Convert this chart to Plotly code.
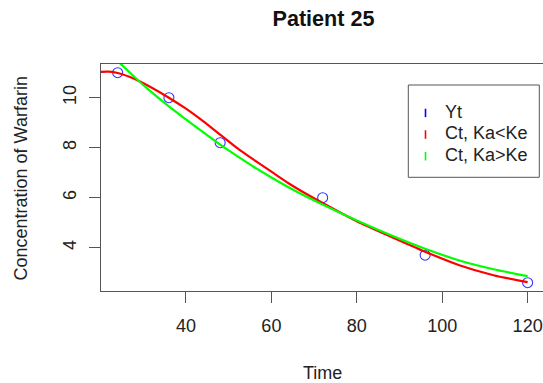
import plotly.graph_objects as go

# ---- data ----
obs_time = [24, 36, 48, 72, 96, 120]
obs_conc = [11.0, 10.0, 8.2, 6.0, 3.7, 2.6]

red_time = [16, 18, 20, 22, 24, 28, 32, 36, 40, 44, 48, 52, 56, 60, 64, 68, 72, 80, 88, 96, 104, 112, 120]
red_conc = [10.90, 10.99, 11.03, 11.04, 10.99, 10.75, 10.40, 10.00, 9.56, 9.06, 8.52, 7.98,
            7.50, 7.04, 6.58, 6.17, 5.79, 5.06, 4.44, 3.84, 3.30, 2.90, 2.62]

green_time = [24, 28, 32, 36, 40, 44, 48, 52, 56, 60, 64, 68, 72, 80, 88, 96, 104, 112, 120]
green_conc = [11.47, 10.82, 10.21, 9.65, 9.13, 8.62, 8.12, 7.66, 7.22, 6.81, 6.42, 6.06,
              5.73, 5.09, 4.50, 3.96, 3.49, 3.14, 2.86]

x_ticks = [40, 60, 80, 100, 120]
y_ticks = [4, 6, 8, 10]

legend_labels = ["Yt", "Ct, Ka<Ke", "Ct, Ka>Ke"]
legend_colors = ["#0000FF", "#FF0000", "#00FF00"]

title_text = "Patient 25"
x_title = "Time"
y_title = "Concentration of Warfarin"

# ---- layout geometry (pixels) ----
W, H = 543, 383
L, R, T, B = 101, 0, 64, 92
PW = W - L - R
PH = H - T - B
FONT = "Liberation Sans, Arial, sans-serif"
AX = "#555555"
TXT = "#222222"


def px_x(px):
    return (px - L) / PW


def px_y(py):
    return (H - B - py) / PH


fig = go.Figure()
fig.add_trace(go.Scatter(x=obs_time, y=obs_conc, mode="markers",
                         marker=dict(symbol="circle-open", size=10, color="#3535ff",
                                     line=dict(width=1.1, color="#3535ff")),
                         cliponaxis=False, showlegend=False))
fig.add_trace(go.Scatter(x=red_time, y=red_conc, mode="lines",
                         line=dict(color="#FF0000", width=2.2, shape="spline", smoothing=0.6),
                         showlegend=False))
fig.add_trace(go.Scatter(x=green_time, y=green_conc, mode="lines",
                         line=dict(color="#00FF00", width=2.2, shape="spline", smoothing=0.6),
                         showlegend=False))

fig.update_layout(
    width=W, height=H,
    margin=dict(l=L, r=R, t=T, b=B, pad=0),
    paper_bgcolor="white", plot_bgcolor="white",
    font=dict(family=FONT, size=18, color=TXT),
    showlegend=False,
    title=dict(text="<b>" + title_text + "</b>", x=323.5 / W, xanchor="center",
               xref="container", y=1 - 18 / H, yanchor="middle", yref="container",
               font=dict(family=FONT, size=21.6, color="#111111")),
)

fig.update_xaxes(range=[20.1, 123.6], tickvals=x_ticks, ticktext=[str(v) for v in x_ticks],
                 showgrid=False, zeroline=False, showline=True, mirror=True,
                 linecolor=AX, linewidth=1, ticks="outside", ticklen=11, tickwidth=1,
                 tickcolor=AX, tickfont=dict(size=18, color=TXT), ticklabelstandoff=7)
fig.update_yaxes(range=[2.268, 11.348], tickvals=y_ticks, ticktext=[str(v) for v in y_ticks],
                 showgrid=False, zeroline=False, showline=True, mirror=False,
                 linecolor=AX, linewidth=1, ticks="outside", ticklen=11, tickwidth=1,
                 tickcolor=AX, tickangle=-90, tickfont=dict(size=18, color=TXT),
                 ticklabelstandoff=6)

# axis titles
fig.add_annotation(text=x_title, xref="paper", yref="paper", x=0.5, y=px_y(373.3),
                   xanchor="center", yanchor="middle", showarrow=False,
                   font=dict(size=18, color=TXT))
fig.add_annotation(text=y_title, xref="paper", yref="paper", x=px_x(20.7), y=px_y(178.8),
                   xanchor="center", yanchor="middle", showarrow=False, textangle=-90,
                   font=dict(size=18, color=TXT))

# legend box
fig.add_shape(type="rect", xref="paper", yref="paper",
              x0=px_x(408.3), x1=px_x(539.3), y0=px_y(85), y1=px_y(177.3),
              line=dict(color=AX, width=1), fillcolor="white", layer="above")
row_y = [111.7, 133.3, 155.0]
for lab, col, ry in zip(legend_labels, legend_colors, row_y):
    fig.add_shape(type="line", xref="paper", yref="paper",
                  x0=px_x(425.5), x1=px_x(425.5), y0=px_y(ry + 5.5), y1=px_y(ry - 3),
                  line=dict(color=col, width=1.6), layer="above")
    fig.add_annotation(text=lab, xref="paper", yref="paper", x=px_x(443.3), y=px_y(ry),
                       xanchor="left", yanchor="middle", showarrow=False,
                       font=dict(size=18, color=TXT))

fig.write_html("out.html")
